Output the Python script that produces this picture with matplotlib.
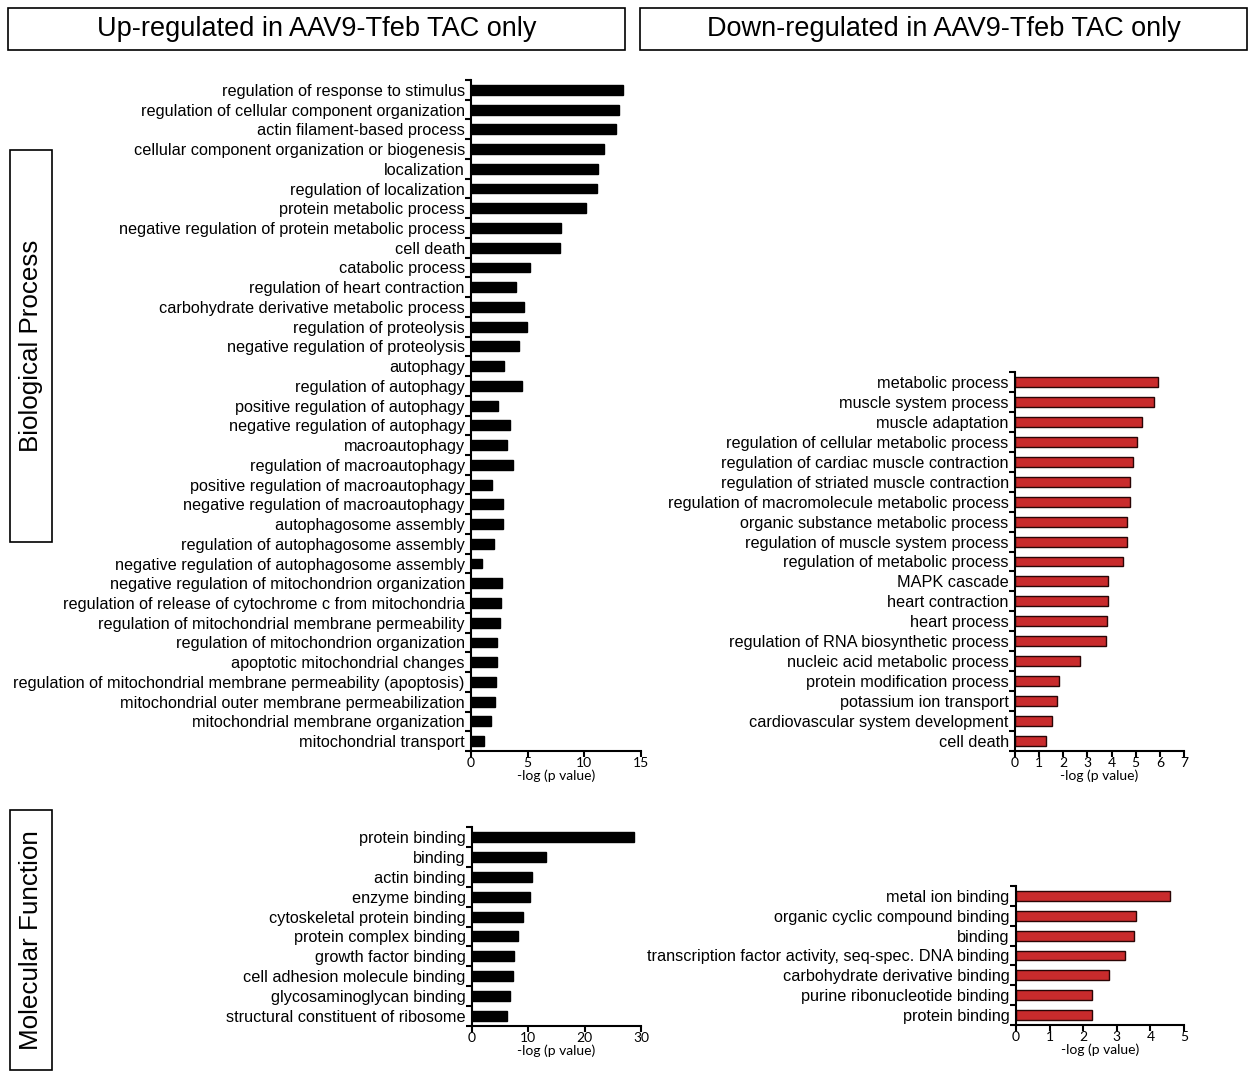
import matplotlib
matplotlib.use("Agg")
import matplotlib.pyplot as plt
from matplotlib.patches import Rectangle

plt.rcParams["font.family"] = ["Liberation Sans", "DejaVu Sans"]

W, H = 1255, 1079

# GO terms and -log(p) values, top to bottom
bp_up_terms = [
    "regulation of response to stimulus",
    "regulation of cellular component organization",
    "actin filament-based process",
    "cellular component organization or biogenesis",
    "localization",
    "regulation of localization",
    "protein metabolic process",
    "negative regulation of protein metabolic process",
    "cell death",
    "catabolic process",
    "regulation of heart contraction",
    "carbohydrate derivative metabolic process",
    "regulation of proteolysis",
    "negative regulation of proteolysis",
    "autophagy",
    "regulation of autophagy",
    "positive regulation of autophagy",
    "negative regulation of autophagy",
    "macroautophagy",
    "regulation of macroautophagy",
    "positive regulation of macroautophagy",
    "negative regulation of macroautophagy",
    "autophagosome assembly",
    "regulation of autophagosome assembly",
    "negative regulation of autophagosome assembly",
    "negative regulation of mitochondrion organization",
    "regulation of release of cytochrome c from mitochondria",
    "regulation of mitochondrial membrane permeability",
    "regulation of mitochondrion organization",
    "apoptotic mitochondrial changes",
    "regulation of mitochondrial membrane permeability (apoptosis)",
    "mitochondrial outer membrane permeabilization",
    "mitochondrial membrane organization",
    "mitochondrial transport",
]
bp_up_vals = [13.4, 13.07, 12.75, 11.74, 11.2, 11.12, 10.14, 7.95, 7.86, 5.23,
              3.96, 4.67, 4.9, 4.23, 2.87, 4.49, 2.42, 3.43, 3.22, 3.72,
              1.89, 2.84, 2.78, 2.0, 1.0, 2.75, 2.63, 2.54, 2.31, 2.31,
              2.22, 2.16, 1.8, 1.15]

bp_down_terms = [
    "metabolic process",
    "muscle system process",
    "muscle adaptation",
    "regulation of cellular metabolic process",
    "regulation of cardiac muscle contraction",
    "regulation of striated muscle contraction",
    "regulation of macromolecule metabolic process",
    "organic substance metabolic process",
    "regulation of muscle system process",
    "regulation of metabolic process",
    "MAPK cascade",
    "heart contraction",
    "heart process",
    "regulation of RNA biosynthetic process",
    "nucleic acid metabolic process",
    "protein modification process",
    "potassium ion transport",
    "cardiovascular system development",
    "cell death",
]
bp_down_vals = [5.94, 5.77, 5.27, 5.05, 4.9, 4.78, 4.78, 4.64, 4.62, 4.48,
                3.85, 3.85, 3.8, 3.77, 2.7, 1.83, 1.74, 1.54, 1.29]

mf_up_terms = [
    "protein binding",
    "binding",
    "actin binding",
    "enzyme binding",
    "cytoskeletal protein binding",
    "protein complex binding",
    "growth factor binding",
    "cell adhesion molecule binding",
    "glycosaminoglycan binding",
    "structural constituent of ribosome",
]
mf_up_vals = [28.75, 13.1, 10.6, 10.27, 9.13, 8.25, 7.42, 7.3, 6.71, 6.23]

mf_down_terms = [
    "metal ion binding",
    "organic cyclic compound binding",
    "binding",
    "transcription factor activity, seq-spec. DNA binding",
    "carbohydrate derivative binding",
    "purine ribonucleotide binding",
    "protein binding",
]
mf_down_vals = [4.57, 3.58, 3.5, 3.23, 2.77, 2.27, 2.25]

RED = "#c92b2c"


def px_rect(l, t, r, b):
    return [l / W, 1 - b / H, (r - l) / W, (b - t) / H]


def go_panel(fig, box, terms, vals, xmax, xticks, color, edge):
    ax = fig.add_axes(px_rect(*box))
    n = len(terms)
    y = list(range(n))
    ax.barh(y, vals, height=0.5, color=color, edgecolor=edge, linewidth=1.0)
    ax.set_ylim(n - 0.5, -0.5)
    ax.set_xlim(0, xmax)
    ax.set_yticks(y)
    ax.set_yticklabels(terms, fontsize=11.7)
    ax.set_yticks([i - 0.5 for i in range(n + 1)], minor=True)
    ax.tick_params(axis="y", which="major", length=0, pad=4.5)
    ax.tick_params(axis="y", which="minor", length=4, width=1.5, direction="out")
    ax.set_xticks(xticks)
    ax.set_xticklabels([str(t) for t in xticks], family="Lato", fontsize=10)
    ax.tick_params(axis="x", length=4, width=1.5, pad=0.5)
    ax.set_xlabel("-log (p value)", family="Lato", fontsize=10, labelpad=0)
    for s in ("top", "right"):
        ax.spines[s].set_visible(False)
    for s in ("left", "bottom"):
        ax.spines[s].set_linewidth(1.5)
    return ax


fig = plt.figure(figsize=(W / 100, H / 100), dpi=100)

go_panel(fig, (471, 80, 641, 751), bp_up_terms, bp_up_vals, 15, [0, 5, 10, 15], "black", "black")
go_panel(fig, (1015, 372, 1184, 751), bp_down_terms, bp_down_vals, 7, list(range(8)), RED, "#2a0505")
go_panel(fig, (472, 827, 641, 1026), mf_up_terms, mf_up_vals, 30, [0, 10, 20, 30], "black", "black")
go_panel(fig, (1016, 886, 1184, 1025), mf_down_terms, mf_down_vals, 5, list(range(6)), RED, "#2a0505")


# framed headers along the top and the left side
def framed_label(l, t, r, b, text, size, rotation=0):
    fig.patches.append(Rectangle((l / W, 1 - b / H), (r - l) / W, (b - t) / H,
                                 transform=fig.transFigure, fill=False,
                                 edgecolor="black", linewidth=1.2))
    fig.text((l + r) / 2 / W, 1 - (t + b) / 2 / H, text, ha="center", va="center",
             fontsize=size, rotation=rotation)


framed_label(8, 8, 625, 50, "Up-regulated in AAV9-Tfeb TAC only", 19.5)
framed_label(640, 8, 1247, 50, "Down-regulated in AAV9-Tfeb TAC only", 19.5)
framed_label(10, 150, 52, 542, "Biological Process", 18.7, rotation=90)
framed_label(10, 810, 52, 1070, "Molecular Function", 18.7, rotation=90)

fig.savefig("out.png", dpi=100)
